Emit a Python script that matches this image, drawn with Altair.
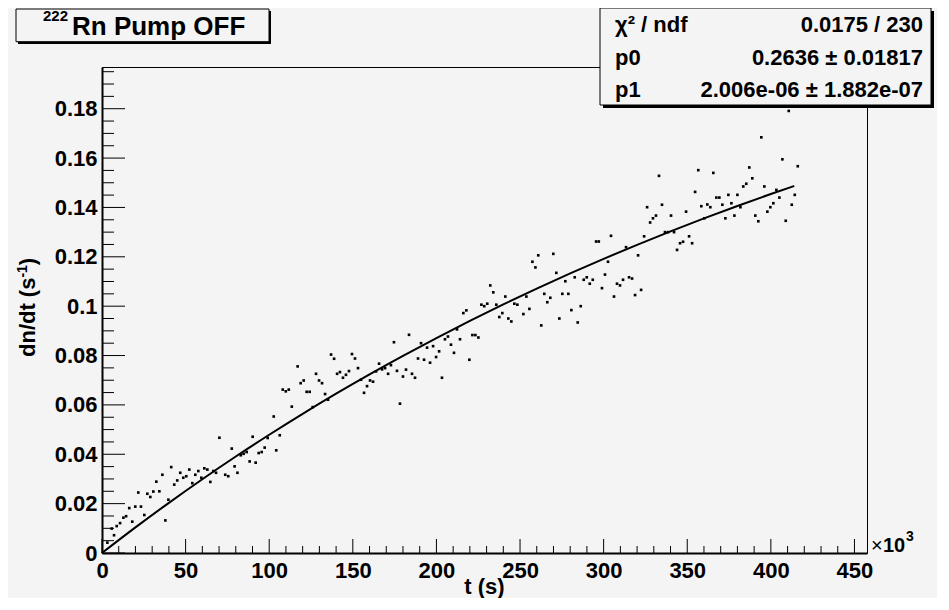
import altair as alt
import pandas as pd

# ---- data (time in units of 10^3 s, rate in s^-1) ----
t_ks = [3.2, 5.8, 7.2, 8.8, 10.8, 12.8, 14.4, 16.3, 18.1, 19.9, 21.7, 23.3, 25.3, 27.1, 28.9,
        30.7, 32.5, 34.3, 36.1, 37.9, 39.7, 41.4, 43.2, 45.0, 46.8, 48.6, 50.4, 52.2, 54.0,
        55.8, 57.6, 59.4, 61.2, 63.0, 64.8, 66.6, 68.2, 70.2, 73.7, 75.5, 77.6, 79.3, 81.0,
        83.0, 84.7, 86.5, 88.3, 90.1, 91.9, 93.7, 95.5, 97.3, 99.1, 102.7, 104.2, 106.3,
        108.1, 109.9, 111.7, 113.5, 117.0, 118.8, 120.6, 122.4, 124.2, 126.0, 128.0, 129.8,
        131.6, 133.4, 135.2, 137.0, 138.8, 140.6, 142.3, 144.1, 145.9, 147.7, 149.5, 151.3,
        153.1, 154.9, 156.7, 158.5, 160.3, 162.1, 163.9, 165.7, 167.5, 169.3, 171.1, 172.8,
        174.6, 176.4, 178.2, 180.0, 181.8, 183.6, 185.4, 187.2, 189.0, 190.8, 192.6, 194.4,
        196.2, 198.0, 199.8, 201.6, 203.3, 205.1, 206.9, 208.7, 210.5, 212.3, 214.1, 216.1,
        217.9, 219.7, 221.5, 223.3, 225.1, 226.9, 228.6, 230.4, 232.2, 234.0, 235.8, 237.6,
        239.4, 241.2, 243.0, 244.8, 246.6, 248.4, 252.0, 253.8, 255.6, 257.4, 259.2, 260.9,
        262.7, 264.5, 266.3, 268.1, 269.9, 271.7, 273.5, 275.3, 277.1, 278.9, 280.7, 282.7,
        284.5, 286.3, 288.1, 289.9, 291.7, 293.5, 295.5, 297.1, 299.0, 300.8, 302.6, 304.4,
        306.2, 308.0, 309.8, 311.6, 313.4, 315.2, 317.0, 318.8, 320.6, 322.4, 324.2, 326.0,
        327.8, 329.5, 331.3, 333.1, 334.9, 336.7, 338.5, 340.3, 342.1, 343.9, 345.7, 347.5,
        349.3, 351.1, 352.9, 354.7, 356.6, 358.4, 360.2, 362.0, 363.8, 365.6, 367.4, 369.2,
        371.0, 372.8, 374.6, 376.4, 378.2, 380.0, 381.8, 383.5, 385.3, 387.1, 388.9, 390.7,
        392.5, 394.3, 396.1, 397.9, 399.7, 401.5, 403.3, 405.1, 406.9, 408.9, 410.7, 412.5,
        414.3, 416.1]
rate = [0.0042, 0.0099, 0.0072, 0.0109, 0.0121, 0.0143, 0.0149, 0.0182, 0.0127, 0.0188, 0.0245,
        0.0188, 0.0154, 0.0240, 0.0227, 0.0249, 0.0289, 0.0250, 0.0317, 0.0132, 0.0216, 0.0348,
        0.0277, 0.0294, 0.0325, 0.0305, 0.0311, 0.0338, 0.0283, 0.0317, 0.0332, 0.0305, 0.0343,
        0.0338, 0.0288, 0.0332, 0.0325, 0.0467, 0.0317, 0.0311, 0.0423, 0.0351, 0.0325, 0.0396,
        0.0402, 0.0409, 0.0371, 0.0471, 0.0366, 0.0405, 0.0409, 0.0427, 0.0466, 0.0553, 0.0416,
        0.0477, 0.0662, 0.0655, 0.0662, 0.0593, 0.0756, 0.0688, 0.0699, 0.0653, 0.0653, 0.0591,
        0.0726, 0.0699, 0.0688, 0.0644, 0.0621, 0.0804, 0.0787, 0.0726, 0.0733, 0.0710, 0.0722,
        0.0737, 0.0806, 0.0788, 0.0749, 0.0702, 0.0649, 0.0676, 0.0699, 0.0694, 0.0736, 0.0767,
        0.0744, 0.0749, 0.0726, 0.0761, 0.0854, 0.0738, 0.0605, 0.0715, 0.0743, 0.0884, 0.0726,
        0.0710, 0.0788, 0.0850, 0.0783, 0.0832, 0.0771, 0.0838, 0.0794, 0.0817, 0.0710, 0.0866,
        0.0877, 0.0844, 0.0811, 0.0906, 0.0866, 0.0972, 0.0983, 0.0783, 0.0883, 0.0883, 0.0873,
        0.1006, 0.1000, 0.1010, 0.1084, 0.1056, 0.1006, 0.0956, 0.0972, 0.1039, 0.0950, 0.0938,
        0.1010, 0.1006, 0.0968, 0.1039, 0.0989, 0.1180, 0.1157, 0.1206, 0.0922, 0.1050, 0.1016,
        0.1034, 0.1212, 0.1135, 0.0950, 0.1050, 0.1101, 0.1050, 0.0984, 0.1117, 0.0934, 0.1000,
        0.1107, 0.1117, 0.1091, 0.1107, 0.1262, 0.1262, 0.1073, 0.1128, 0.1180, 0.1285, 0.1039,
        0.1091, 0.1084, 0.1107, 0.1239, 0.1117, 0.1112, 0.1045, 0.1206, 0.1066, 0.1283, 0.1401,
        0.1339, 0.1356, 0.1367, 0.1528, 0.1411, 0.1300, 0.1300, 0.1367, 0.1300, 0.1228, 0.1255,
        0.1261, 0.1383, 0.1283, 0.1255, 0.1463, 0.1551, 0.1405, 0.1356, 0.1412, 0.1401, 0.1540,
        0.1440, 0.1440, 0.1411, 0.1356, 0.1451, 0.1417, 0.1367, 0.1451, 0.1401, 0.1485, 0.1496,
        0.1562, 0.1518, 0.1367, 0.1344, 0.1684, 0.1485, 0.1383, 0.1401, 0.1417, 0.1471, 0.1440,
        0.1595, 0.1346, 0.1791, 0.1411, 0.1451, 0.1567]

# fitted curve
fit_t = [0, 20, 40, 60, 80, 100, 120, 140, 160, 180, 200, 220, 240, 260, 280, 300, 320,
         340, 360, 380, 400, 414]
fit_rate = [0.0, 0.01037, 0.02033, 0.02989, 0.03908, 0.04791, 0.05640, 0.06454, 0.07237,
            0.07988, 0.08710, 0.09404, 0.10072, 0.10712, 0.11328, 0.11919, 0.12486, 0.13033,
            0.13556, 0.14060, 0.14544, 0.14871]

x_major = [0, 50, 100, 150, 200, 250, 300, 350, 400, 450]
x_minor = [v for v in range(10, 451, 10) if v % 50 != 0]
y_major = [0.0, 0.02, 0.04, 0.06, 0.08, 0.10, 0.12, 0.14, 0.16, 0.18]
y_minor = [0.005, 0.010, 0.015, 0.025, 0.030, 0.035, 0.045, 0.050, 0.055, 0.065, 0.070,
           0.075, 0.085, 0.090, 0.095, 0.105, 0.110, 0.115, 0.125, 0.130, 0.135, 0.145,
           0.150, 0.155, 0.165, 0.170, 0.175, 0.185, 0.190, 0.195]

title_sup = "222"
title_main = "Rn Pump OFF"
stat_labels = ["χ² / ndf", "p0", "p1"]
stat_values = ["0.0175 / 230", "0.2636 ± 0.01817", "2.006e-06 ± 1.882e-07"]

# ---- layout ----
W, H = 765, 486
FONT = "Liberation Sans"
BG = "#f4f4f4"

xs = alt.Scale(domain=[0, 457.5], nice=False, zero=False)
ys = alt.Scale(domain=[0, 0.1969], nice=False, zero=False)

x_axis = alt.Axis(values=x_major, format="d", ticks=False, tickSize=0, grid=False,
                  domainColor="black", domainWidth=2, labelFont=FONT, labelFontSize=22,
                  labelFontWeight="bold", labelColor="black", labelPadding=24,
                  labelBaseline="alphabetic", labelFlush=False, labelOverlap=False, title=None)
y_axis = alt.Axis(values=y_major, format="~g", ticks=False, tickSize=0, grid=False,
                  domainColor="black", domainWidth=2, labelFont=FONT, labelFontSize=22,
                  labelFontWeight="bold", labelColor="black", labelPadding=5,
                  labelAlign="right", labelBaseline="middle", labelFlush=False,
                  labelOverlap=False, title=None)

pts = pd.DataFrame({"t": t_ks, "r": rate})
fit = pd.DataFrame({"t": fit_t, "r": fit_rate})
one = pd.DataFrame({"a": [0]})

points = alt.Chart(pts).mark_square(size=7, color="black", opacity=1).encode(
    x=alt.X("t:Q", scale=xs, axis=x_axis), y=alt.Y("r:Q", scale=ys, axis=y_axis))
line = alt.Chart(fit).mark_line(color="black", strokeWidth=2, interpolate="monotone").encode(
    x=alt.X("t:Q", scale=xs, axis=x_axis), y=alt.Y("r:Q", scale=ys, axis=y_axis))

def xtick(vals, ln):
    return alt.Chart(pd.DataFrame({"t": vals})).mark_rule(color="black", strokeWidth=1).encode(
        x=alt.X("t:Q", scale=xs, axis=x_axis), y=alt.value(H), y2=alt.value(H - ln))

def ytick(vals, ln):
    return alt.Chart(pd.DataFrame({"r": vals})).mark_rule(color="black", strokeWidth=1).encode(
        y=alt.Y("r:Q", scale=ys, axis=y_axis), x=alt.value(0), x2=alt.value(ln))

def box(x1, x2, y1, y2, fill, stroke=None):
    kw = dict(fill=fill)
    if stroke:
        kw.update(stroke=stroke, strokeWidth=1)
    return alt.Chart(one).mark_rect(**kw).encode(
        x=alt.value(x1), x2=alt.value(x2), y=alt.value(y1), y2=alt.value(y2))

def txt(text, x, y, size, weight="bold", align="left", angle=None):
    kw = dict(text=text, fontSize=size, fontWeight=weight, font=FONT, align=align,
              baseline="alphabetic", color="black")
    if angle is not None:
        kw["angle"] = angle
    return alt.Chart(one).mark_text(**kw).encode(x=alt.value(x), y=alt.value(y))

layers = [
    points, line,
    xtick(x_major, 14), xtick(x_minor, 7),
    ytick(y_major, 23), ytick(y_minor, 12),
    # title box
    box(-84, 169, -56, -23, "black"),
    box(-86, 167, -58, -25.3, BG, "black"),
    txt(title_sup, -59, -46, 15),
    txt(title_main, -30, -32, 26),
    # stats box
    box(501, 832, -56, 41, "black"),
    box(498, 829, -59, 38, BG, "black"),
]
for i, (lab, val) in enumerate(zip(stat_labels, stat_values)):
    yb = -34.7 + 32.5 * i
    layers.append(txt(lab, 513, yb, 22))
    layers.append(txt(val, 821, yb, 22, align="right"))

layers += [
    # x axis exponent and title
    txt("×", 769, 485, 20, weight="normal"),
    txt("10", 781, 485, 20),
    txt("3", 804, 474, 14),
    txt("t (s)", 382.5, 527, 22, align="center"),
    # y axis title
    txt("dn/dt (s", -67, 290, 22, angle=270),
    txt("-1", -75, 210.6, 14, angle=270),
    txt(")", -67, 198.2, 22, angle=270),
]

chart = alt.layer(*layers).properties(
    width=W, height=H,
    autosize=alt.AutoSizeParams(type="none"),
    padding={"left": 94, "top": 59, "right": 70, "bottom": 45},
    background=BG,
).configure_view(stroke="black", strokeWidth=1)

chart.save("out.html", embed_options={"renderer": "svg", "actions": False})
